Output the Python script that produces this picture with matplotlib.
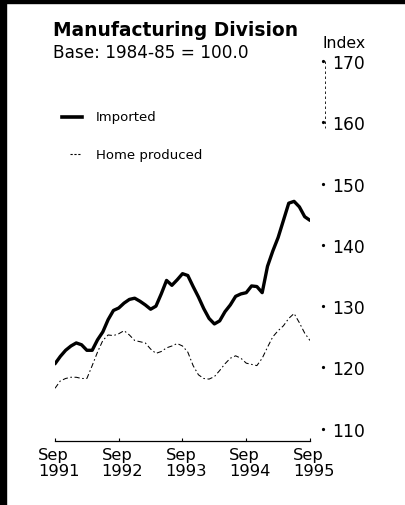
import matplotlib
matplotlib.use("Agg")
import matplotlib.pyplot as plt
from matplotlib.lines import Line2D
from matplotlib.patches import Rectangle
from matplotlib.transforms import ScaledTranslation, blended_transform_factory

# Monthly index values, Sep 1991 .. Sep 1995 (month 0 .. 48)
months = list(range(49))
imported = [
    120.6, 121.8, 122.8, 123.5, 124.0, 123.7, 122.8, 122.8, 124.5, 125.8,
    127.8, 129.3, 129.7, 130.5, 131.1, 131.3, 130.8, 130.2, 129.5, 130.0,
    132.0, 134.2, 133.4, 134.3, 135.3, 135.0, 133.2, 131.5, 129.6, 128.0,
    127.1, 127.6, 129.1, 130.2, 131.6, 132.0, 132.2, 133.3, 133.2, 132.2,
    136.5, 139.0, 141.2, 144.0, 146.8, 147.1, 146.2, 144.6, 144.0,
]
home_produced = [
    116.6, 117.8, 118.2, 118.4, 118.4, 118.2, 118.2, 120.3, 122.5, 124.4,
    125.3, 125.2, 125.5, 126.0, 125.3, 124.4, 124.2, 124.0, 123.0, 122.3,
    122.6, 123.2, 123.5, 123.9, 123.5, 122.5, 120.3, 118.8, 118.2, 118.1,
    118.5, 119.5, 120.6, 121.5, 121.9, 121.5, 120.7, 120.5, 120.3, 121.5,
    123.3, 125.0, 126.0, 126.8, 128.0, 128.8, 127.3, 125.6, 124.4,
]

x_ticks = [0, 12, 24, 36, 48]
x_labels = ["Sep\n1991", "Sep\n1992", "Sep\n1993", "Sep\n1994", "Sep\n1995"]
y_ticks = [110, 120, 130, 140, 150, 160, 170]

W, H = 406, 506
fig = plt.figure(figsize=(W / 100, H / 100), dpi=100)
fig.patch.set_facecolor("white")

# scanned page edges
fig.patches.append(Rectangle((0, 0), 6 / W, 1, transform=fig.transFigure,
                             color="black", zorder=10))
fig.patches.append(Rectangle((0, 1 - 4 / H), 1, 4 / H, transform=fig.transFigure,
                             color="black", zorder=10))

# axes placed in pixels: x 55..310, y 62 (170) .. 442 (108)
ax = fig.add_axes([55 / W, (H - 442) / H, (310 - 55) / W, (442 - 62) / H])
ax.plot(months, imported, color="black", lw=2.4, solid_capstyle="round",
        solid_joinstyle="round")
ax.plot(months, home_produced, color="black", lw=0.75,
        linestyle=(0, (5, 2.5, 1.5, 2.5)))

ax.set_xlim(0, 48)
ax.set_ylim(108, 170)
for s in ["top", "right", "left"]:
    ax.spines[s].set_visible(False)
ax.spines["bottom"].set_linewidth(0.9)

ax.set_xticks(x_ticks)
ax.set_xticklabels(x_labels, ha="left", fontsize=11.8, linespacing=1.1)
ax.tick_params(axis="x", direction="in", length=2, width=0.8, pad=4)
off = ScaledTranslation(-17 / 100, 0, fig.dpi_scale_trans)
for lbl in ax.get_xticklabels():
    lbl.set_transform(lbl.get_transform() + off)

ax.yaxis.tick_right()
ax.set_yticks(y_ticks)
ax.set_yticklabels([str(v) for v in y_ticks], fontsize=12.3)
ax.tick_params(axis="y", length=0, pad=16)

# small dot tick marks beside the labels
tr = blended_transform_factory(ax.transAxes, ax.transData)
ax.plot([1.05] * len(y_ticks), y_ticks, ls="none", marker="o", ms=1.3,
        color="black", transform=tr, clip_on=False)
ax.plot([1.06, 1.06], [170, 159], color="black", lw=0.6,
        linestyle=(0, (3, 3)), transform=tr, clip_on=False)

fig.text(323 / W, 1 - 44 / H, "Index", fontsize=11.3, va="center", ha="left")

# titles
fig.text(53 / W, 1 - 31 / H, "Manufacturing Division", fontsize=13.4,
         fontweight="heavy", va="center", ha="left")
fig.text(53 / W, 1 - 53 / H, "Base: 1984-85 = 100.0", fontsize=12.2,
         va="center", ha="left")

# legend
fig.add_artist(Line2D([62 / W, 82 / W], [1 - 118 / H, 1 - 118 / H],
                      color="black", lw=2.6, transform=fig.transFigure))
fig.text(96 / W, 1 - 117 / H, "Imported", fontsize=9.5, va="center", ha="left")
fig.add_artist(Line2D([70 / W, 80 / W], [1 - 155 / H, 1 - 155 / H],
                      color="black", lw=0.8, linestyle=(0, (2, 1.5)),
                      transform=fig.transFigure))
fig.text(96 / W, 1 - 155 / H, "Home produced", fontsize=9.5, va="center",
         ha="left")

fig.savefig("out.png", dpi=100)
